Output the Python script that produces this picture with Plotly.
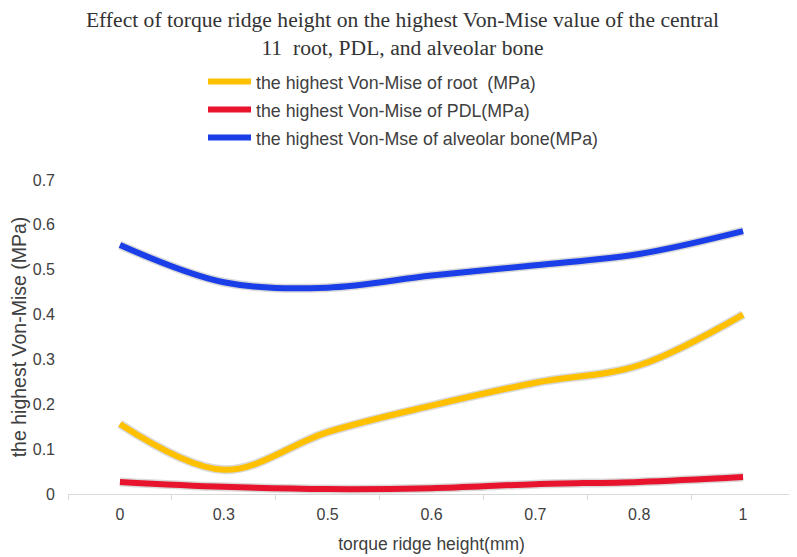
import plotly.graph_objects as go

heights = ["0", "0.3", "0.5", "0.6", "0.7", "0.8", "1"]
root = [0.156, 0.054, 0.138, 0.197, 0.248, 0.287, 0.400]
pdl = [0.027, 0.016, 0.011, 0.013, 0.022, 0.027, 0.038]
bone = [0.555, 0.472, 0.460, 0.487, 0.510, 0.535, 0.586]

SERIES = [
    ("the highest Von-Mise of root  (MPa)", root, "#FFC000", "legend"),
    ("the highest Von-Mise of PDL(MPa)", pdl, "#E8142E", "legend2"),
    ("the highest Von-Mse of alveolar bone(MPa)", bone, "#1A3FE8", "legend3"),
]

# the page body adds an 8px margin, so the figure is 8px smaller than the window
W, H = 789, 549

fig = go.Figure()

# soft shadow under every curve
for name, vals, color, lg in SERIES:
    fig.add_trace(go.Scatter(
        x=heights, y=vals, mode="lines", showlegend=False, hoverinfo="skip",
        line=dict(color="rgba(0,0,0,0.15)", width=9, shape="spline", smoothing=1),
    ))

for name, vals, color, lg in SERIES:
    fig.add_trace(go.Scatter(
        x=heights, y=vals, mode="lines", name=name, legend=lg,
        line=dict(color=color, width=6, shape="spline", smoothing=1),
    ))

legend_font = dict(family="Liberation Sans, Arial", size=17.8, color="#404040")
legend_base = dict(xref="paper", yref="container", xanchor="left", yanchor="middle",
                   x=0.1857, font=legend_font, bgcolor="rgba(0,0,0,0)", itemwidth=43)

fig.update_layout(
    width=W,
    height=H,
    margin=dict(l=60, r=2, t=172, b=63, autoexpand=False),
    paper_bgcolor="white",
    plot_bgcolor="white",
    title=dict(
        text="Effect of torque ridge height on the highest Von-Mise value of the central<br>11  root, PDL, and alveolar bone",
        x=0.5, xanchor="center", y=1 - 19 / H, yanchor="middle",
        font=dict(family="Liberation Serif, Times New Roman", size=21.6, color="#333333"),
    ),
    legend=dict(legend_base, y=1 - 74 / H),
    legend2=dict(legend_base, y=1 - 102 / H),
    legend3=dict(legend_base, y=1 - 130 / H),
    font=dict(family="Liberation Sans, Arial", color="#404040"),
)

fig.update_xaxes(
    type="category", range=[-0.5, 6.5], automargin=False,
    showline=True, linecolor="#d9d9d9", linewidth=1,
    ticks="outside", tickson="boundaries", ticklen=5, tickcolor="#d9d9d9",
    ticklabelstandoff=6,
    showgrid=False, zeroline=False,
    tickfont=dict(size=16, color="#404040"),
    title=dict(text="torque ridge height(mm)", font=dict(size=17.5, color="#404040")),
)
fig.update_yaxes(
    range=[0, 0.7], dtick=0.1, tickformat="~g", automargin=False,
    showline=False, showgrid=False, zeroline=False,
    ticklabelstandoff=12,
    tickfont=dict(size=16, color="#404040"),
    title=dict(text="the highest Von-Mise (MPa)", font=dict(size=19.5, color="#404040"), standoff=7),
)

fig.write_html("out.html")
